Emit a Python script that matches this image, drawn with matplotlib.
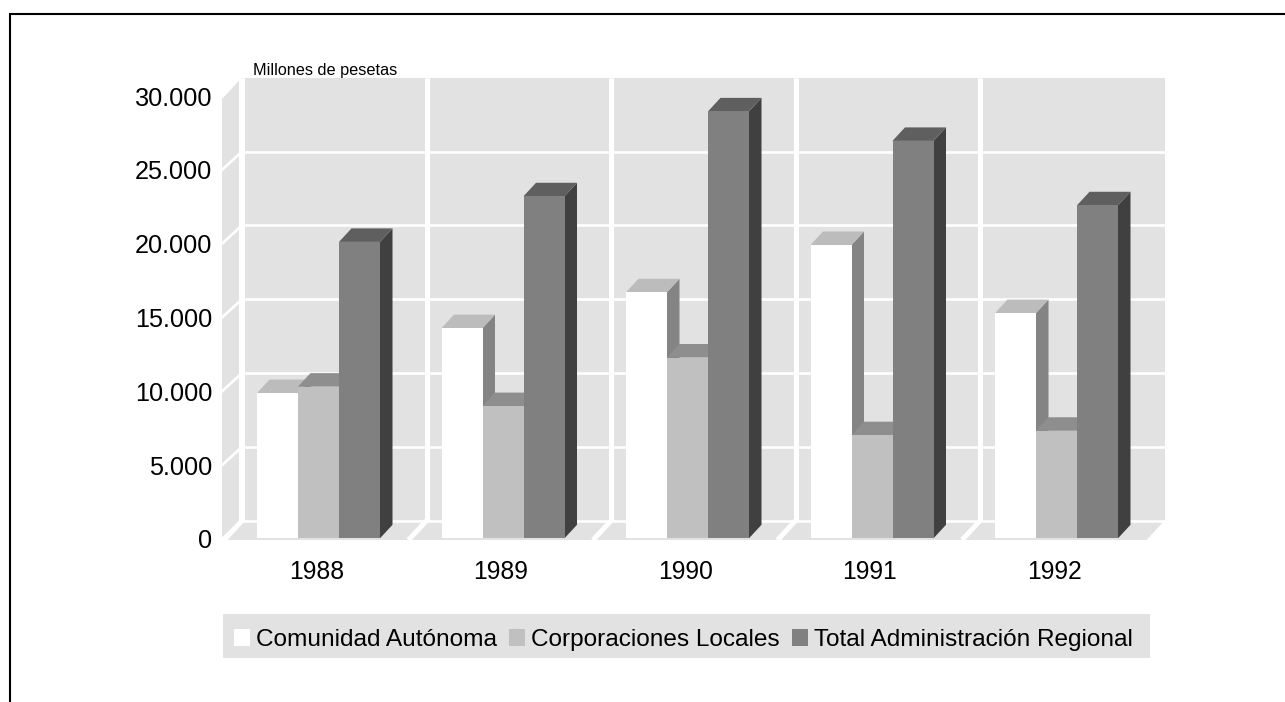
import matplotlib
matplotlib.use("Agg")
import matplotlib.pyplot as plt
from matplotlib.patches import Patch, Polygon, Rectangle

plt.rcParams['font.family'] = ['Liberation Sans', 'DejaVu Sans']

years = ['1988', '1989', '1990', '1991', '1992']
comunidad = [9880, 14280, 16710, 19910, 15300]
corporaciones = [10320, 9000, 12290, 7030, 7330]
total = [20120, 23210, 28960, 26960, 22600]
series_names = ['Comunidad Autónoma', 'Corporaciones Locales', 'Total Administración Regional']
y_ticks = [0, 5000, 10000, 15000, 20000, 25000, 30000]
y_labels = ['0', '5.000', '10.000', '15.000', '20.000', '25.000', '30.000']

WALL = '#e2e2e2'
# front, top, side colour of each series
face_colors = [('#ffffff', '#bcbcbc', '#848484'),
               ('#c0c0c0', '#8e8e8e', '#6e6e6e'),
               ('#808080', '#5f5f5f', '#404040')]

W, H = 1285, 702
# one pixel in data units
PX = 1 / 184.5
PY = 30000 / 443
DEPTH_X = 18 * PX
DEPTH_Y = 18.3 * PY
BAR_W = 41 * PX
BAR_DX = 12.5 * PX
BAR_DY = 13.5 * PY


def poly(ax, pts, color, z):
    ax.add_patch(Polygon(pts, closed=True, facecolor=color, edgecolor='none', zorder=z, clip_on=False))


def draw_walls(ax):
    n = len(years)
    # back wall
    poly(ax, [(DEPTH_X, DEPTH_Y), (n + DEPTH_X, DEPTH_Y), (n + DEPTH_X, 30000 + DEPTH_Y), (DEPTH_X, 30000 + DEPTH_Y)], WALL, 1)
    # side wall
    poly(ax, [(-2 * PX, 0), (DEPTH_X - 3 * PX, DEPTH_Y - 3 * PY), (DEPTH_X - 3 * PX, 30000 + DEPTH_Y - 3 * PY), (-2 * PX, 30000 - 3 * PY)], WALL, 1)
    # floor
    poly(ax, [(0, -1 * PY), (n, -1 * PY), (n + DEPTH_X, DEPTH_Y), (DEPTH_X, DEPTH_Y)], WALL, 1)

    for v in y_ticks[1:-1] + [0]:
        ax.plot([DEPTH_X, n + DEPTH_X], [v + DEPTH_Y, v + DEPTH_Y], color='white', lw=1.9, zorder=2, clip_on=False, solid_capstyle='butt')
        ax.plot([-2 * PX, DEPTH_X], [v, v + DEPTH_Y], color='white', lw=1.9, zorder=2, clip_on=False)
    for k in range(n):
        ax.plot([k + DEPTH_X, k + DEPTH_X], [DEPTH_Y, 30000 + DEPTH_Y], color='white', lw=3.6, zorder=2, clip_on=False, solid_capstyle='butt')
        ax.plot([k, k + DEPTH_X], [-1 * PY, DEPTH_Y], color='white', lw=3.6, zorder=2, clip_on=False, solid_capstyle='butt')


def draw_bar(ax, x0, v, colors, z):
    front, top, side = colors
    y0 = 0.7 * PY
    x1 = x0 + BAR_W
    poly(ax, [(x1, y0), (x1 + BAR_DX, y0 + BAR_DY), (x1 + BAR_DX, v + BAR_DY), (x1, v)], side, z)
    poly(ax, [(x0, v), (x1, v), (x1 + BAR_DX, v + BAR_DY), (x0 + BAR_DX, v + BAR_DY)], top, z)
    poly(ax, [(x0, y0), (x1, y0), (x1, v), (x0, v)], front, z + 1)


def main():
    fig = plt.figure(figsize=(W / 100, H / 100), dpi=100, facecolor='white')
    ax = fig.add_axes([224 / W, 1 - 539 / H, 922.5 / W, 443 / H])
    ax.set_xlim(0, len(years))
    ax.set_ylim(0, 30000)
    ax.patch.set_visible(False)
    for s in ax.spines.values():
        s.set_visible(False)

    draw_walls(ax)

    values = [comunidad, corporaciones, total]
    for k in range(len(years)):
        left = k + 0.5 + 2.25 * PX - 1.5 * BAR_W
        for i, vals in enumerate(values):
            draw_bar(ax, left + i * BAR_W, vals[k], face_colors[i], 3 + 2 * i)

    ax.set_xticks([k + 0.5 for k in range(len(years))])
    ax.set_xticklabels(years, fontsize=17.8)
    ax.set_yticks(y_ticks)
    ax.set_yticklabels(y_labels, fontsize=18.2)
    ax.tick_params(axis='both', length=0)
    ax.tick_params(axis='x', pad=15)
    ax.tick_params(axis='y', pad=8.6)

    fig.text(253 / W, 1 - 70 / H, 'Millones de pesetas', fontsize=11.7, va='center', ha='left')

    # legend background is its own box so the entries can sit where they do in the original
    fig.add_artist(Rectangle((223 / W, 1 - 658 / H), 927 / W, 44 / H, transform=fig.transFigure,
                             facecolor=WALL, edgecolor='none'))
    handles = [Patch(facecolor=face_colors[i][0], edgecolor='none', label=series_names[i]) for i in range(3)]
    fig.legend(handles=handles, loc='upper left', bbox_to_anchor=(223 / W, 1 - 618 / H),
               bbox_transform=fig.transFigure, ncol=3, fontsize=17.6, frameon=False,
               borderaxespad=0, borderpad=0.45, handlelength=0.66, handleheight=0.66,
               handletextpad=0.25, columnspacing=0.48)

    # page frame, runs off the right and bottom
    fig.add_artist(plt.Line2D([10 / W, 10 / W, 1], [0, 1 - 14 / H, 1 - 14 / H], color='black', lw=1.5,
                              solid_joinstyle='miter'))

    plt.savefig('out.png', dpi=100, facecolor='white')


if __name__ == "__main__":
    main()
